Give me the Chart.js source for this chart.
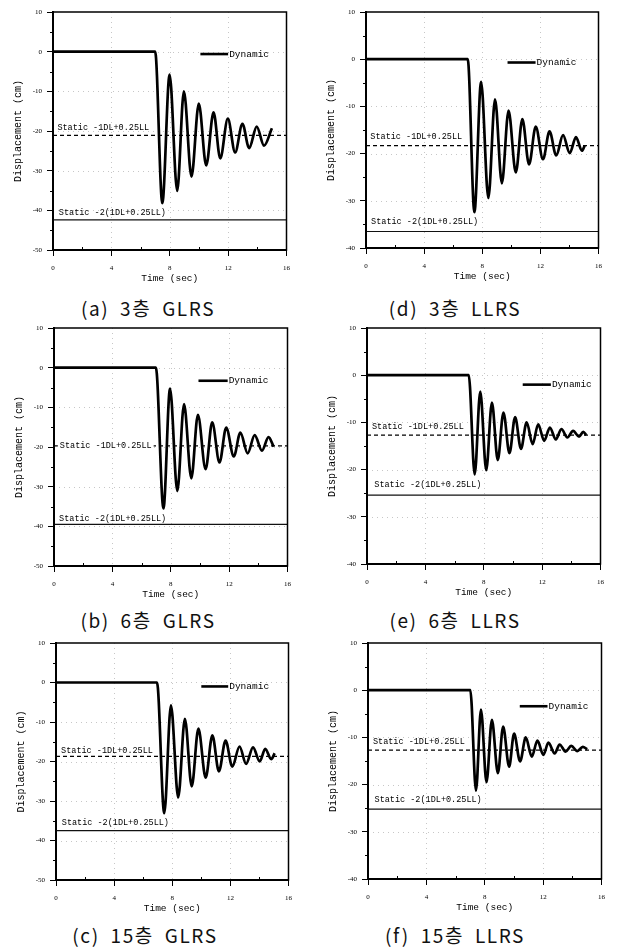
<!DOCTYPE html>
<html><head><meta charset="utf-8">
<script src="https://cdn.jsdelivr.net/npm/chart.js@4.4.1/dist/chart.umd.min.js"></script>
<style>
html,body{margin:0;padding:0;background:#fff;}
body{width:619px;height:948px;position:relative;overflow:hidden;}
canvas{position:absolute;}
.cap{position:absolute;width:300px;margin-left:-150px;text-align:center;font-family:"Noto Sans CJK KR","Noto Sans",sans-serif;font-size:19px;line-height:20px;color:#111;letter-spacing:1.6px;word-spacing:5px;white-space:pre;}
</style></head><body>
<script>
// ---------- DATA ----------
const xTickLabels = [0, 4, 8, 12, 16];
const yTicksGLRS = [10, 0, -10, -20, -30, -40, -50];
const yTicksLLRS = [10, 0, -10, -20, -30, -40];
const seriesNames = ['Dynamic', 'Static -1DL+0.25LL', 'Static -2(1DL+0.25LL)'];
const captions = ['(a) 3층 GLRS', '(b) 6층 GLRS', '(c) 15층 GLRS', '(d) 3층 LLRS', '(e) 6층 LLRS', '(f) 15층 LLRS'];

// (a) 3-storey GLRS
const timeA = [0, 7.0, 7.49, 7.99, 8.51, 8.97, 9.49, 9.99, 10.5, 11.0, 11.46, 11.98, 12.48, 12.98, 13.44, 13.96, 14.46, 15.0];
const dispA = [0, 0, -38.2, -5.8, -35.1, -10.0, -31.5, -13.1, -28.7, -15.3, -26.9, -16.9, -25.4, -18.2, -24.3, -18.9, -23.7, -19.3];
const staticA = [-21.1, -42.4];
// (b) 6-storey GLRS
const timeB = [0, 6.98, 7.5, 7.95, 8.45, 8.91, 9.41, 9.86, 10.39, 10.84, 11.34, 11.8, 12.32, 12.77, 13.27, 13.75, 14.25, 14.7, 15.05];
const dispB = [0, 0, -35.5, -5.3, -31.1, -9.2, -27.9, -11.9, -25.6, -13.8, -23.9, -15.1, -22.4, -16.4, -21.6, -17.0, -20.9, -17.5, -19.9];
const staticB = [-19.7, -39.5];
// (c) 15-storey GLRS
const timeC = [0, 6.95, 7.45, 7.91, 8.41, 8.87, 9.34, 9.8, 10.3, 10.76, 11.21, 11.67, 12.13, 12.63, 13.08, 13.56, 14.02, 14.4, 14.81, 15.05];
const dispC = [0, 0, -33.1, -5.8, -29.1, -9.2, -26.3, -11.7, -24.1, -13.4, -22.5, -14.7, -21.3, -16.2, -20.6, -16.4, -20.0, -16.8, -19.4, -17.9];
const staticC = [-18.7, -37.5];
// (d) 3-storey LLRS
const timeD = [0, 7.0, 7.46, 7.92, 8.42, 8.88, 9.35, 9.81, 10.31, 10.76, 11.22, 11.68, 12.18, 12.63, 13.09, 13.56, 14.02, 14.45, 14.86, 15.05];
const dispD = [0, 0, -32.4, -4.8, -29.4, -8.5, -26.3, -10.9, -24.0, -12.7, -22.3, -14.3, -21.2, -15.3, -20.4, -16.1, -19.9, -16.5, -19.4, -18.3];
const staticD = [-18.3, -36.5];
// (e) 6-storey LLRS
const timeE = [0, 6.97, 7.38, 7.76, 8.17, 8.56, 8.96, 9.35, 9.76, 10.15, 10.55, 10.94, 11.35, 11.73, 12.14, 12.53, 12.94, 13.32, 13.73, 14.12, 14.53, 14.82, 15.02];
const dispE = [0, 0, -21.0, -3.5, -20.1, -5.8, -18.0, -7.9, -16.5, -8.9, -15.6, -10.0, -14.6, -10.4, -13.9, -11.1, -13.6, -11.4, -13.2, -11.8, -13.0, -12.0, -12.7];
const staticE = [-12.7, -25.4];
// (f) 15-storey LLRS
const timeF = [0, 7.01, 7.4, 7.74, 8.12, 8.49, 8.9, 9.26, 9.67, 10.01, 10.42, 10.81, 11.22, 11.61, 12.02, 12.36, 12.79, 13.13, 13.54, 13.93, 14.34, 14.72, 15.02];
const dispF = [0, 0, -21.3, -4.1, -19.5, -6.3, -17.6, -7.7, -16.2, -9.2, -15.1, -10.0, -14.1, -10.7, -13.7, -11.1, -13.4, -11.5, -13.0, -11.8, -12.9, -12.0, -12.5];
const staticF = [-12.7, -25.2];

// ---------- LAYOUT (positions / styles only) ----------
const panels = [
  {t: timeA, d: dispA, s: staticA, yT: yTicksGLRS, cap: captions[0], box: [53, 12, 288, 250], leg: [10.1, 12.0, -0.6], lab: [0.3, 0.4], dy: [-8, -7], bg1: false, capXY: [148, 298]},
  {t: timeB, d: dispB, s: staticB, yT: yTicksGLRS, cap: captions[1], box: [54, 328, 289, 566], leg: [9.9, 11.9, -3.3], lab: [0.4, 0.35], dy: [0, -6], bg1: true, capXY: [148, 610]},
  {t: timeC, d: dispC, s: staticC, yT: yTicksGLRS, cap: captions[2], box: [56, 643, 290, 880], leg: [10.0, 11.85, -1.0], lab: [0.35, 0.4], dy: [-6, -8], bg1: false, capXY: [145, 925]},
  {t: timeD, d: dispD, s: staticD, yT: yTicksLLRS, cap: captions[3], box: [366, 12, 600, 248], leg: [9.74, 11.67, -0.7], lab: [0.3, 0.35], dy: [-9, -10], bg1: false, capXY: [455, 298]},
  {t: timeE, d: dispE, s: staticE, yT: yTicksLLRS, cap: captions[4], box: [367, 328, 602, 564], leg: [10.67, 12.6, -2.0], lab: [0.34, 0.5], dy: [-8, -10], bg1: false, capXY: [455, 610]},
  {t: timeF, d: dispF, s: staticF, yT: yTicksLLRS, cap: captions[5], box: [368, 643, 603, 879], leg: [10.4, 12.3, -3.4], lab: [0.34, 0.45], dy: [-8, -9], bg1: false, capXY: [455, 925]}
];

const MONO = "'Liberation Mono', 'DejaVu Sans Mono', monospace";
const SERIF = "'Liberation Serif', 'DejaVu Serif', serif";
const YW = 45, XH = 38, PT = 10, PR = 10;

function makePanel(p) {
  const [l, t, r, b] = p.box;
  const w = r - l + YW + PR, h = b - t + PT + XH;
  const cv = document.createElement('canvas');
  cv.width = w; cv.height = h;
  cv.style.left = (l - YW) + 'px'; cv.style.top = (t - PT) + 'px';
  cv.style.width = w + 'px'; cv.style.height = h + 'px';
  document.body.appendChild(cv);

  const cap = document.createElement('div');
  cap.className = 'cap';
  cap.textContent = p.cap;
  cap.style.left = p.capXY[0] + 'px';
  cap.style.top = p.capXY[1] + 'px';
  document.body.appendChild(cap);

  const xMin = xTickLabels[0], xMax = xTickLabels[xTickLabels.length - 1];
  const yMin = Math.min(...p.yT), yMax = Math.max(...p.yT);

  const deco = {
    id: 'deco',
    beforeDatasetsDraw(chart) {
      const {ctx, chartArea: a, scales: {x, y}} = chart;
      ctx.save();
      ctx.strokeStyle = 'rgba(0,0,0,0.22)';
      ctx.lineWidth = 1;
      ctx.setLineDash([1, 4]);
      for (const v of xTickLabels.slice(1, -1)) {
        const px = Math.round(x.getPixelForValue(v)) + 0.5;
        ctx.beginPath(); ctx.moveTo(px, a.top); ctx.lineTo(px, a.bottom); ctx.stroke();
      }
      for (const v of p.yT) {
        if (v === yMin || v === yMax) continue;
        const py = Math.round(y.getPixelForValue(v)) + 0.5;
        ctx.beginPath(); ctx.moveTo(a.left, py); ctx.lineTo(a.right, py); ctx.stroke();
      }
      ctx.restore();
    },
    afterDatasetsDraw(chart) {
      const {ctx, chartArea: a, scales: {x, y}} = chart;
      ctx.save();
      // frame
      ctx.strokeStyle = '#000'; ctx.lineWidth = 1.5; ctx.setLineDash([]);
      ctx.strokeRect(a.left, a.top, a.right - a.left, a.bottom - a.top);
      // minor ticks
      ctx.lineWidth = 1;
      for (let v = xMin + 2; v < xMax; v += 4) {
        const px = Math.round(x.getPixelForValue(v)) + 0.5;
        ctx.beginPath(); ctx.moveTo(px, a.bottom); ctx.lineTo(px, a.bottom - 3); ctx.stroke();
      }
      for (let v = yMin + 5; v < yMax; v += 10) {
        const py = Math.round(y.getPixelForValue(v)) + 0.5;
        ctx.beginPath(); ctx.moveTo(a.left, py); ctx.lineTo(a.left - 3, py); ctx.stroke();
      }
      // static labels
      ctx.font = '8.5px ' + MONO;
      ctx.fillStyle = '#000';
      ctx.textBaseline = 'middle';
      ctx.textAlign = 'left';
      for (let k = 0; k < 2; k++) {
        const tx = x.getPixelForValue(p.lab[k]);
        const ty = y.getPixelForValue(p.s[k]) + p.dy[k];
        const txt = seriesNames[k + 1];
        if (k === 0 && p.bg1) {
          const tw = ctx.measureText(txt).width;
          ctx.fillStyle = '#fff';
          ctx.fillRect(tx - 2, ty - 5, tw + 4, 10);
          ctx.fillStyle = '#000';
        }
        ctx.fillText(txt, tx, ty);
      }
      // legend
      const lx0 = x.getPixelForValue(p.leg[0]), lx1 = x.getPixelForValue(p.leg[1]);
      const ly = y.getPixelForValue(p.leg[2]);
      ctx.lineWidth = 2.6;
      ctx.beginPath(); ctx.moveTo(lx0, ly); ctx.lineTo(lx1, ly); ctx.stroke();
      ctx.font = '9.5px ' + MONO;
      ctx.fillText(seriesNames[0], lx1 + 1, ly);
      ctx.restore();
    }
  };

  new Chart(cv, {
    type: 'scatter',
    data: {
      datasets: [
        {label: seriesNames[0], data: p.t.map((tv, i) => ({x: tv, y: p.d[i]})), showLine: true,
         borderColor: '#000', borderWidth: 2.7, pointRadius: 0, cubicInterpolationMode: 'monotone', order: 0},
        {label: seriesNames[1], data: [{x: xMin, y: p.s[0]}, {x: xMax, y: p.s[0]}], showLine: true,
         borderColor: '#000', borderWidth: 1.2, borderDash: [4, 3], pointRadius: 0, order: 1},
        {label: seriesNames[2], data: [{x: xMin, y: p.s[1]}, {x: xMax, y: p.s[1]}], showLine: true,
         borderColor: '#111', borderWidth: 1.2, pointRadius: 0, order: 2}
      ]
    },
    options: {
      responsive: false, animation: false, devicePixelRatio: 1,
      layout: {padding: {top: PT, right: PR, left: 0, bottom: 0}},
      plugins: {legend: {display: false}, tooltip: {enabled: false}},
      scales: {
        x: {
          type: 'linear', min: xMin, max: xMax,
          afterFit: s => { s.height = XH; },
          ticks: {stepSize: 4, autoSkip: false, maxRotation: 0, color: '#000',
                  font: {family: SERIF, size: 7}, padding: 8},
          afterBuildTicks: s => { s.ticks = xTickLabels.map(v => ({value: v})); },
          grid: {drawOnChartArea: false, tickLength: 6, tickColor: '#000', tickWidth: 1},
          border: {color: '#000', width: 2},
          title: {display: true, text: 'Time (sec)', color: '#000', font: {family: MONO, size: 9.5}, padding: {top: 0, bottom: 4}}
        },
        y: {
          type: 'linear', min: yMin, max: yMax,
          afterFit: s => { s.width = YW; },
          afterBuildTicks: s => { s.ticks = p.yT.slice().reverse().map(v => ({value: v})); },
          ticks: {color: '#000', font: {family: SERIF, size: 7}, padding: 5},
          grid: {drawOnChartArea: false, tickLength: 6, tickColor: '#000', tickWidth: 1},
          border: {color: '#000', width: 2},
          title: {display: true, text: 'Displacement (cm)', color: '#000', font: {family: MONO, size: 10}, padding: {top: 4, bottom: 0}}
        }
      }
    },
    plugins: [deco]
  });
}

panels.forEach(makePanel);
</script>
</body></html>
